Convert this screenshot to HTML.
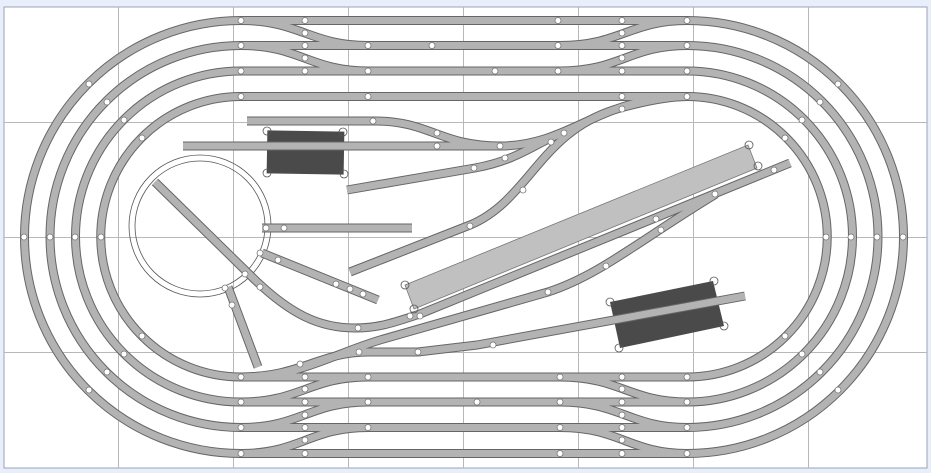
<!DOCTYPE html>
<html><head><meta charset="utf-8"><style>
html,body{margin:0;padding:0;background:#e8eefa;}
svg{display:block}
.j{fill:#fff;stroke:#777;stroke-width:0.8}
.g{stroke:#b8b8b8;stroke-width:1}
</style></head><body>
<svg width="931" height="473" viewBox="0 0 931 473" xmlns="http://www.w3.org/2000/svg">
<defs>
<g id="tr" fill="none">
<path d="M241 20.5 H687 A216.5 216.5 0 0 1 687 453.5 H241 A216.5 216.5 0 0 1 241 20.5 Z"/>
<path d="M241 45.5 H687 A191 191 0 0 1 687 427.5 H241 A191 191 0 0 1 241 45.5 Z"/>
<path d="M241 71 H687 A165.5 165.5 0 0 1 687 402 H241 A165.5 165.5 0 0 1 241 71 Z"/>
<path d="M241 96.5 H687 A140 140 0 0 1 687 377 H241 A140 140 0 0 1 241 96.5 Z"/>
<path d="M241 20.5 C300 20.5 310 45.5 368 45.5"/>
<path d="M241 45.5 C300 45.5 310 71 368 71"/>
<path d="M560 45.5 C620 45.5 630 20.5 687 20.5"/>
<path d="M560 71 C620 71 630 45.5 687 45.5"/>
<path d="M241 402 C300 402 310 377 368 377"/>
<path d="M241 427.5 C300 427.5 310 402 368 402"/>
<path d="M241 453.5 C300 453.5 310 427.5 368 427.5"/>
<path d="M560 377 C620 377 630 402 687 402"/>
<path d="M560 402 C620 402 630 427.5 687 427.5"/>
<path d="M560 427.5 C620 427.5 630 453.5 687 453.5"/>
<path d="M247 121 H375 C430 121 440 146 500 146 C570 146 600 96.5 687 96.5"/>
<path d="M183 146 H505"/>
<path d="M347 190 L475 168 C520 160 540 140 565 132"/>
<path d="M350 272 L470 225 C530 200 540 130 620 108 C650 100 670 96.5 687 96.5"/>
<path d="M262 228 H412"/>
<path d="M262 253 L378 300"/>
<path d="M228 287 L258 367"/>
<path d="M155 182 L250 275 C290 315 320 328 355 328 C380 328 395 322 420 314 L790 163"/>
<path d="M241 377 C300 377 330 355 380 340 L548 292 C600 275 640 240 716 194"/>
<path d="M241 377 C300 377 320 352 368 352 H418 L477 345 L745 296"/>
</g>
</defs>
<rect x="0" y="0" width="931" height="473" fill="#e8eefa"/>
<rect x="4" y="7" width="923" height="461" fill="#fff" stroke="#9aa4b8" stroke-width="1"/>
<g class="g">
<line x1="118.5" y1="7" x2="118.5" y2="468"/><line x1="233.5" y1="7" x2="233.5" y2="468"/>
<line x1="348.5" y1="7" x2="348.5" y2="468"/><line x1="463.5" y1="7" x2="463.5" y2="468"/>
<line x1="578.5" y1="7" x2="578.5" y2="468"/><line x1="693.5" y1="7" x2="693.5" y2="468"/>
<line x1="808.5" y1="7" x2="808.5" y2="468"/>
<line x1="4" y1="122.5" x2="927" y2="122.5"/><line x1="4" y1="237.5" x2="927" y2="237.5"/>
<line x1="4" y1="352.5" x2="927" y2="352.5"/>
</g>
<polygon points="405,285 748,145 757,168 414,309" fill="#c0c0c0" stroke="#777" stroke-width="0.8"/>
<rect x="267" y="131" width="77" height="43" fill="#4a4a4a" transform="rotate(1 305 152)"/>
<polygon points="610,302 713,281 724,326 620,348" fill="#4a4a4a"/>
<circle cx="200" cy="226" r="71" fill="none" stroke="#555" stroke-width="0.8"/>
<circle cx="200" cy="226" r="65" fill="none" stroke="#555" stroke-width="0.8"/>
<use href="#tr" stroke="#666" stroke-width="9"/>
<use href="#tr" stroke="#b3b3b3" stroke-width="7"/>
<g class="j">
<circle cx="241" cy="20.5" r="3"/><circle cx="305" cy="20.5" r="3"/><circle cx="558" cy="20.5" r="3"/><circle cx="622" cy="20.5" r="3"/><circle cx="687" cy="20.5" r="3"/>
<circle cx="241" cy="45.5" r="3"/><circle cx="305" cy="45.5" r="3"/><circle cx="368" cy="45.5" r="3"/><circle cx="432" cy="45.5" r="3"/><circle cx="558" cy="45.5" r="3"/><circle cx="622" cy="45.5" r="3"/><circle cx="687" cy="45.5" r="3"/>
<circle cx="241" cy="71" r="3"/><circle cx="305" cy="71" r="3"/><circle cx="368" cy="71" r="3"/><circle cx="495" cy="71" r="3"/><circle cx="558" cy="71" r="3"/><circle cx="622" cy="71" r="3"/><circle cx="687" cy="71" r="3"/>
<circle cx="241" cy="96.5" r="3"/><circle cx="368" cy="96.5" r="3"/><circle cx="622" cy="96.5" r="3"/><circle cx="687" cy="96.5" r="3"/>
<circle cx="305" cy="33" r="3"/><circle cx="305" cy="58" r="3"/><circle cx="622" cy="33" r="3"/><circle cx="622" cy="58" r="3"/>
<circle cx="241" cy="377" r="3"/><circle cx="305" cy="377" r="3"/><circle cx="368" cy="377" r="3"/><circle cx="560" cy="377" r="3"/><circle cx="622" cy="377" r="3"/><circle cx="687" cy="377" r="3"/>
<circle cx="241" cy="402" r="3"/><circle cx="305" cy="402" r="3"/><circle cx="368" cy="402" r="3"/><circle cx="477" cy="402" r="3"/><circle cx="560" cy="402" r="3"/><circle cx="622" cy="402" r="3"/><circle cx="687" cy="402" r="3"/>
<circle cx="241" cy="427.5" r="3"/><circle cx="305" cy="427.5" r="3"/><circle cx="368" cy="427.5" r="3"/><circle cx="560" cy="427.5" r="3"/><circle cx="622" cy="427.5" r="3"/><circle cx="687" cy="427.5" r="3"/>
<circle cx="241" cy="453.5" r="3"/><circle cx="305" cy="453.5" r="3"/><circle cx="560" cy="453.5" r="3"/><circle cx="622" cy="453.5" r="3"/><circle cx="687" cy="453.5" r="3"/>
<circle cx="305" cy="389" r="3"/><circle cx="305" cy="415" r="3"/><circle cx="305" cy="440" r="3"/><circle cx="622" cy="389" r="3"/><circle cx="622" cy="415" r="3"/><circle cx="622" cy="440" r="3"/>
<circle cx="24" cy="237" r="3"/><circle cx="50" cy="237" r="3"/><circle cx="75" cy="237" r="3"/><circle cx="101" cy="237" r="3"/>
<circle cx="903" cy="237" r="3"/><circle cx="877" cy="237" r="3"/><circle cx="851" cy="237" r="3"/><circle cx="826" cy="237" r="3"/>
<circle cx="89" cy="84" r="3"/><circle cx="107" cy="102" r="3"/><circle cx="124" cy="120" r="3"/><circle cx="142" cy="138" r="3"/>
<circle cx="838" cy="84" r="3"/><circle cx="820" cy="102" r="3"/><circle cx="802" cy="120" r="3"/><circle cx="785" cy="138" r="3"/>
<circle cx="89" cy="390" r="3"/><circle cx="107" cy="372" r="3"/><circle cx="124" cy="354" r="3"/><circle cx="142" cy="336" r="3"/>
<circle cx="838" cy="390" r="3"/><circle cx="820" cy="372" r="3"/><circle cx="802" cy="354" r="3"/><circle cx="785" cy="336" r="3"/>
<circle cx="373" cy="121" r="3"/><circle cx="437" cy="133" r="3"/><circle cx="437" cy="146" r="3"/><circle cx="500" cy="146" r="3"/><circle cx="564" cy="133" r="3"/><circle cx="622" cy="109" r="3"/>
<circle cx="474" cy="168" r="3"/><circle cx="505" cy="158" r="3"/><circle cx="551" cy="142" r="3"/><circle cx="523" cy="190" r="3"/><circle cx="470" cy="226" r="3"/>
<circle cx="266" cy="228" r="3"/><circle cx="284" cy="228" r="3"/><circle cx="260" cy="253" r="3"/><circle cx="278" cy="260" r="3"/>
<circle cx="336" cy="284" r="3"/><circle cx="350" cy="289" r="3"/><circle cx="363" cy="294" r="3"/><circle cx="245" cy="274" r="3"/><circle cx="260" cy="287" r="3"/>
<circle cx="225" cy="288" r="3"/><circle cx="232" cy="305" r="3"/><circle cx="358" cy="328" r="3"/><circle cx="410" cy="316" r="3"/><circle cx="420" cy="316" r="3"/>
<circle cx="300" cy="364" r="3"/><circle cx="359" cy="352" r="3"/><circle cx="418" cy="352" r="3"/><circle cx="493" cy="345" r="3"/>
<circle cx="548" cy="292" r="3"/><circle cx="606" cy="266" r="3"/><circle cx="661" cy="230" r="3"/><circle cx="656" cy="219" r="3"/><circle cx="715" cy="194" r="3"/><circle cx="774" cy="170" r="3"/>
</g>
<g fill="none" stroke="#555" stroke-width="0.8">
<circle cx="267" cy="131" r="4"/><circle cx="343" cy="132" r="4"/><circle cx="267" cy="173" r="4"/><circle cx="344" cy="174" r="4"/>
<circle cx="405" cy="285" r="4"/><circle cx="414" cy="309" r="4"/><circle cx="749" cy="145" r="4"/><circle cx="758" cy="166" r="4"/>
<circle cx="610" cy="302" r="4"/><circle cx="714" cy="281" r="4"/><circle cx="724" cy="326" r="4"/><circle cx="619" cy="348" r="4"/>
</g>
</svg>
</body></html>
